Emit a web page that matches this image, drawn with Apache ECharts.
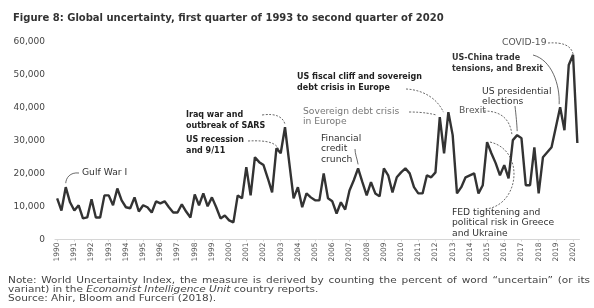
<!DOCTYPE html>
<html>
<head>
<meta charset="utf-8">
<script src="https://cdn.jsdelivr.net/npm/echarts@6/dist/echarts.min.js"></script>
<style>
  html, body { margin: 0; padding: 0; background: #fff; }
  #chart { width: 594px; height: 308px; }
</style>
</head>
<body>
<div id="chart"></div>
<script>
// years shown on the axis, quarterly data 1990 Q1 .. 2020 Q2
const years = [1990,1991,1992,1993,1994,1995,1996,1997,1998,1999,2000,2001,2002,2003,2004,2005,
  2006,2007,2008,2009,2010,2011,2012,2013,2014,2015,2016,2017,2018,2019,2020];
const quarterNames = ['Q1','Q2','Q3','Q4'];
const lastQuarters = 2; // 2020 stops at Q2

// World Uncertainty Index
const wui = [
  12500, 8800, 15900, 11300, 8800, 10400, 6400, 6700, 12200, 6700,
  6700, 13400, 13400, 10400, 15500, 11900, 9800, 9500, 12800, 8500,
  10400, 9800, 8200, 11600, 11000, 11600, 9800, 8200, 8200, 10700,
  8500, 6700, 13700, 10400, 14000, 10100, 12800, 9800, 6400, 7300,
  5800, 5200, 13400, 12500, 22000, 13400, 25000, 23500, 22600, 18600,
  14300, 27700, 26200, 34100, 23200, 12500, 15900, 9800, 14000, 12800,
  11900, 11900, 20100, 12500, 11600, 7900, 11300, 9100, 14900, 18000,
  21600, 17400, 13400, 17400, 14000, 13100, 21600, 19500, 14300, 18900,
  20400, 21600, 20100, 15900, 14000, 14000, 19500, 18900, 20400, 37200,
  26200, 38700, 31700, 14000, 15900, 18900, 19500, 20100, 14000, 16500,
  29600, 26200, 23200, 19500, 22600, 18600, 30200, 31700, 30800, 16500,
  16500, 28000, 14000, 25000, 26500, 28000, 34100, 40200, 33200, 53000,
  56100, 29300
];

const yTicks = [0, 10000, 20000, 30000, 40000, 50000, 60000];

// event annotations: text lines and the quarter they point at
const eventTexts = [
  ['Gulf War I'],
  ['Iraq war and', 'outbreak of SARS'],
  ['US recession', 'and 9/11'],
  ['Financial', 'credit', 'crunch'],
  ['Sovereign debt crisis', 'in Europe'],
  ['US fiscal cliff and sovereign', 'debt crisis in Europe'],
  ['COVID-19'],
  ['US-China trade', 'tensions, and Brexit'],
  ['US presidential', 'elections'],
  ['Brexit'],
  ['FED tightening and', 'political risk in Greece', 'and Ukraine']
];
const eventIndex = [2, 53, 52, 70, 89, 91, 120, 117, 107, 106, 100];

const noteLine1 = 'Note: World Uncertainty Index, the measure is derived by counting the percent of word \u201cuncertain\u201d (or its';
const noteLine2 = 'variant) in the {i|Economist Intelligence Unit} country reports.';
const sourceLine = 'Source: Ahir, Bloom and Furceri (2018).';

const categories = [];
years.forEach(function (y, k) {
  const n = k === years.length - 1 ? lastQuarters : 4;
  for (let q = 0; q < n; q++) categories.push(y + ' ' + quarterNames[q]);
});

const FONT = '"DejaVu Sans", Verdana, sans-serif';
const chart = echarts.init(document.getElementById('chart'));

const option = {
  animation: false,
  backgroundColor: '#fff',
  textStyle: { fontFamily: FONT },
  title: {
    text: 'Figure 8: Global uncertainty, first quarter of 1993 to second quarter of 2020',
    left: 8, top: 8,
    textStyle: { fontFamily: FONT, fontSize: 10, fontWeight: 'bold', color: '#333' }
  },
  grid: { left: 55, right: 14.5, top: 42, bottom: 68.5 },
  xAxis: {
    type: 'category',
    data: categories,
    boundaryGap: true,
    axisLine: { lineStyle: { color: '#d6d6d6' } },
    axisTick: { show: true, interval: 3, alignWithLabel: true, length: 2, lineStyle: { color: '#d6d6d6' } },
    axisLabel: {
      interval: 3,
      rotate: 90,
      fontSize: 7.5,
      color: '#555',
      margin: 3,
      formatter: function (v) { return v.slice(0, 4); }
    }
  },
  yAxis: {
    type: 'value',
    min: yTicks[0],
    max: yTicks[yTicks.length - 1],
    interval: yTicks[1] - yTicks[0],
    splitLine: { show: false },
    axisLine: { show: false },
    axisTick: { show: false },
    axisLabel: {
      fontSize: 9,
      color: '#444',
      margin: 10,
      formatter: function (v) { return v.toLocaleString('en-US'); }
    }
  },
  series: [{
    type: 'line',
    data: wui,
    symbol: 'none',
    lineStyle: { color: '#333', width: 2.4 },
    z: 3
  }]
};
chart.setOption(option);

// where each annotation's text sits and how its leader line bends
const layout = [
  { x: 82, y: 167, color: '#333', bold: false, line: { from: [79, 173], c1: [70, 172], c2: [66, 178], off: [0, -4] } },
  { x: 186, y: 110, color: '#222', bold: true, line: { from: [262, 115], c1: [276, 113], c2: [283, 117], off: [0, -3], dash: true } },
  { x: 186, y: 135, color: '#222', bold: true, line: { from: [248, 141], c1: [268, 140], c2: [276, 143], off: [-2, -4], dash: true } },
  { x: 321, y: 133, color: '#333', bold: false, line: { from: [355, 149], c1: [355, 154], c2: [357, 158], off: [0, -4] } },
  { x: 303, y: 106, color: '#777', bold: false, line: { from: [409, 112], c1: [424, 112], c2: [432, 114], off: [-3, -2], dash: true } },
  { x: 297, y: 72, color: '#222', bold: true, line: { from: [406, 89], c1: [425, 90], c2: [438, 100], off: [-5, 0], dash: true } },
  { x: 502, y: 37, color: '#555', bold: false, line: { from: [548, 43], c1: [564, 42], c2: [571, 46], off: [0, -1], dash: true } },
  { x: 452, y: 53, color: '#333', bold: true, line: { from: [533, 55], c1: [552, 60], c2: [560, 85], off: [-1, -3] } },
  { x: 482, y: 86, color: '#333', bold: false, line: { from: [515, 106], c1: [516, 115], c2: [517, 125], off: [0, -4] } },
  { x: 459, y: 105, color: '#555', bold: false, line: { from: [484, 111], c1: [502, 111], c2: [510, 120], off: [-1, -6], dash: true } },
  { x: 452, y: 207, color: '#333', bold: false, line: { from: [490, 142], c1: [525, 150], c2: [520, 205], to: [486, 209], dash: true } }
];

const graphics = [];
eventTexts.forEach(function (lines, k) {
  const L = layout[k];
  graphics.push({
    type: 'text', left: L.x, top: L.y, z: 10,
    style: {
      text: lines.join('\n'),
      font: L.bold ? 'bold 8px ' + FONT : '9.2px ' + FONT,
      lineHeight: 10.5,
      fill: L.color
    }
  });
  const p = chart.convertToPixel({ seriesIndex: 0 }, [eventIndex[k], wui[eventIndex[k]]]);
  const end = L.line.to ? L.line.to : [p[0] + L.line.off[0], p[1] + L.line.off[1]];
  const start = L.line.to ? [p[0] + 3, p[1]] : L.line.from;
  graphics.push({
    type: 'bezierCurve', z: 9,
    shape: {
      x1: start[0], y1: start[1],
      cpx1: L.line.c1[0], cpy1: L.line.c1[1],
      cpx2: L.line.c2[0], cpy2: L.line.c2[1],
      x2: end[0], y2: end[1]
    },
    style: { stroke: '#444', lineWidth: 0.8, fill: null, lineDash: L.line.dash ? [2, 1.5] : null }
  });
});

// note: the source text is horizontally stretched; first line justified
const noteFont = '9px ' + FONT;
const stretch = 1.17;
const ctx = document.createElement('canvas').getContext('2d');
ctx.font = noteFont;
const words = noteLine1.split(' ');
const widths = words.map(function (w) { return ctx.measureText(w).width * stretch; });
const total = widths.reduce(function (a, b) { return a + b; }, 0);
const gap = (590 - 8 - total) / (words.length - 1);
let cx = 8;
words.forEach(function (w, k) {
  graphics.push({ type: 'text', x: cx, y: 276, scaleX: stretch, z: 10, style: { text: w, font: noteFont, fill: '#444' } });
  cx += widths[k] + gap;
});
graphics.push({
  type: 'text', x: 8, y: 285, scaleX: stretch, z: 10,
  style: {
    text: noteLine2 + '\n' + sourceLine,
    font: noteFont,
    lineHeight: 9,
    fill: '#444',
    rich: { i: { fontStyle: 'italic', fontSize: 9, fontFamily: FONT, fill: '#444' } }
  }
});

chart.setOption({ graphic: graphics });
</script>
</body>
</html>
